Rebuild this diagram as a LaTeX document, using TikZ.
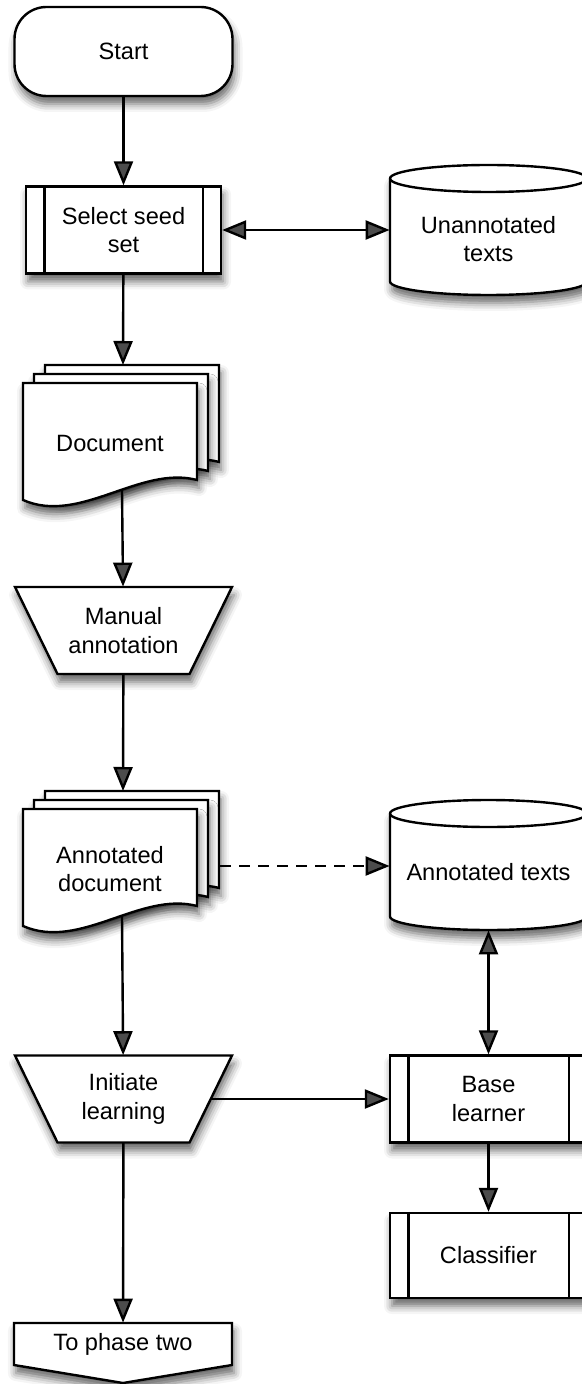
\documentclass[tikz,border=0pt]{standalone}
\usepackage{fontspec}
\setmainfont{Liberation Sans}
\usetikzlibrary{arrows.meta,shadows.blur}

\begin{document}
\begin{tikzpicture}[x=0.5pt, y=-0.5pt,
    every node/.style={font=\fontsize{11.8pt}{14.3pt}\selectfont, align=center},
    box/.style={draw, line width=1.2pt, fill=white,
      blur shadow={shadow xshift=1pt, shadow yshift=-4pt, shadow blur radius=4pt, shadow opacity=60}},
    process/.style={box, minimum width=98.5pt, minimum height=43.5pt},
    arr/.style={-{Triangle[length=12pt,width=9.5pt]}, line width=1.2pt},
    dblarr/.style={{Triangle[length=12pt,width=9.5pt]}-{Triangle[length=12pt,width=9.5pt]}, line width=1.2pt},
    dasharr/.style={arr, dash pattern=on 5.5pt off 4pt}]

  \useasboundingbox (0,0) rectangle (582,1384);

  % Start terminal
  \node[box, rounded corners=16pt, minimum width=109pt, minimum height=44.5pt] (start) at (123.5,51.5) {Start};

  % Predefined processes
  \node[process, minimum width=97.5pt] (sel) at (123.5,230) {Select seed\\set};
  \node[process] (base) at (488.5,1099) {Base\\learner};
  \node[process, minimum height=42.5pt] (cls) at (488.5,1255.5) {Classifier};
  \foreach \n in {sel,base,cls} {
    \draw[line width=1.2pt] ([xshift=9.75pt]\n.north west) -- ([xshift=9.75pt]\n.south west);
    \draw[line width=1.2pt] ([xshift=-9.75pt]\n.north east) -- ([xshift=-9.75pt]\n.south east);
  }

  % Stores
  \foreach \y in {230,865} {
    \draw[box] (390,\y-51.5) -- (390,\y+51.5) arc[start angle=180, end angle=360, x radius=49.25pt, y radius=6.75pt]
      -- (587,\y-51.5) arc[start angle=0, end angle=180, x radius=49.25pt, y radius=6.75pt] -- cycle;
    \draw[line width=1.2pt] (390,\y-51.5) arc[start angle=180, end angle=360, x radius=49.25pt, y radius=6.75pt];
  }
  \node[minimum width=98.5pt] (unann) at (488.5,239) {Unannotated\\texts};
  \node[minimum width=98.5pt, minimum height=58pt] (atext) at (488.5,872) {Annotated texts};

  % Document stacks
  \foreach \s in {0,426} {
    \foreach \d in {22,11,0} {
      \draw[box, shift={(\d,\s-0.82*\d)}] (23,383) -- (197,383) -- (197,480)
        .. controls (140,465) and (80,525) .. (23,500) -- cycle;
    }
  }
  \node (doc) at (110,443) {Document};
  \node (adoc) at (110,869) {Annotated\\document};
  \coordinate (doc-in) at (123,365);
  \coordinate (doc-out) at (122,490);
  \coordinate (adoc-in) at (123,791);
  \coordinate (adoc-out) at (122,916);
  \coordinate (adoc-east) at (220,866);

  % Manual operations
  \foreach \y in {630.5,1099} {
    \draw[box] (15,\y-43.5) -- (232,\y-43.5) -- (189.5,\y+43.5) -- (57.5,\y+43.5) -- cycle;
  }
  \node[minimum width=108.5pt, minimum height=43.5pt] (man) at (123.5,630.5) {Manual\\annotation};
  \node[minimum width=108.5pt, minimum height=43.5pt] (init) at (123.5,1099) {Initiate\\learning};

  % Off-page connector
  \draw[box] (14,1323) -- (232,1323) -- (232,1365) -- (123,1383) -- (14,1365) -- cycle;
  \node[minimum width=109pt, minimum height=21pt] (phase) at (123,1344) {To phase two};

  % Connectors
  \draw[arr] (start) -- (sel);
  \draw[dblarr] (sel) -- (sel -| unann.west);
  \draw[arr] (sel) -- (doc-in);
  \draw[arr] (doc-out) -- (man);
  \draw[arr] (man) -- (adoc-in);
  \draw[dasharr] (adoc-east) -- (adoc-east -| atext.west);
  \draw[arr] (adoc-out) -- (init);
  \draw[dblarr] (atext) -- (base);
  \draw[arr] ([xshift=-10.6pt]init.east) -- (base);
  \draw[arr] (init) -- (phase);
  \draw[arr] (base) -- (cls);
\end{tikzpicture}
\end{document}
